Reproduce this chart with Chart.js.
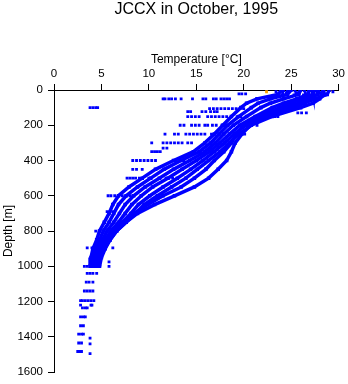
<!DOCTYPE html>
<html>
<head>
<meta charset="utf-8">
<script src="https://cdn.jsdelivr.net/npm/chart.js@4.4.1/dist/chart.umd.min.js"></script>
<style>
    html, body { margin: 0; padding: 0; background: #fff; }
    canvas { display: block; }
</style>
</head>
<body>
<canvas id="profileChart" width="348" height="384"></canvas>
<script>
var TITLE = "JCCX in October, 1995";
var TEMP_TICKS = [0, 5, 10, 15, 20, 25, 30];
var DEPTH_TICKS = [0, 200, 400, 600, 800, 1000, 1200, 1400, 1600];

// CTD casts, temperature [°C] at each depth [m]
var DEPTHS = [0, 25, 50, 75, 100, 150, 200, 250, 300, 350, 400, 450, 500, 550, 600, 650, 700, 750, 800, 850, 900, 950, 1000];
var cast1 = [24.0, 23.6, 21.4, 20.3, 19.7, 18.7, 17.8, 16.9, 15.9, 14.7, 12.6, 10.7, 9.3, 7.9, 6.8, 6.2, 5.8, 5.3, 4.8, 4.5, 4.1, 3.9, 3.8];
var cast2 = [25.0, 24.6, 22.8, 21.5, 20.8, 19.5, 18.3, 17.4, 16.5, 15.3, 13.4, 11.6, 10.2, 8.8, 7.6, 6.8, 6.3, 5.8, 5.2, 4.8, 4.4, 4.1, 4.0];
var cast3 = [26.0, 25.8, 24.2, 22.8, 21.8, 20.3, 18.9, 17.9, 17.0, 15.9, 14.3, 12.6, 11.1, 9.6, 8.4, 7.5, 6.9, 6.3, 5.6, 5.1, 4.7, 4.4, 4.2];
var cast4 = [26.9, 26.8, 25.6, 24.2, 23.0, 21.2, 19.6, 18.5, 17.5, 16.4, 15.0, 13.5, 12.0, 10.4, 9.2, 8.2, 7.5, 6.8, 6.0, 5.4, 5.0, 4.6, 4.4];
var cast5 = [27.7, 27.8, 26.9, 25.8, 24.6, 22.2, 20.2, 19.0, 18.0, 16.9, 15.7, 14.4, 13.0, 11.5, 10.1, 8.9, 8.1, 7.2, 6.3, 5.6, 5.2, 4.8, 4.6];
var cast6 = [28.4, 28.5, 28.0, 27.3, 26.0, 23.0, 20.8, 19.5, 18.5, 17.5, 16.3, 15.1, 13.9, 12.4, 10.9, 9.5, 8.6, 7.6, 6.6, 5.9, 5.4, 5.0, 4.8];
var cast7 = [27.2, 27.3, 26.2, 25.0, 23.8, 21.6, 20.0, 19.2, 18.7, 17.9, 16.9, 16.0, 14.8, 13.4, 11.5, 9.9, 8.4, 7.3, 6.3, 5.6, 5.1, 4.7, 4.5];
var cast8 = [29.0, 28.8, 27.5, 26.4, 25.2, 22.6, 20.7, 19.8, 19.1, 18.7, 18.2, 17.3, 16.3, 14.8, 12.7, 10.6, 8.8, 7.6, 6.6, 5.9, 5.3, 4.9, 4.7];

// bottle samples: one depth, several temperatures
var BOTTLE_DEPTHS = [5, 15, 28, 10, 22, 50, 100, 106, 123, 130, 151, 200, 250, 300, 330, 350, 400, 450, 500, 600, 690, 800, 895, 975, 1000, 1040, 1090, 1140, 1195, 1220, 1236, 1287, 1337, 1385, 1407, 1435, 1440, 1483, 1495];
var BOTTLE_TEMPS = [
    [24.2, 24.6, 25.4, 25.9, 26.4, 26.9, 27.5, 27.9, 28.3],
    [24.1, 24.5, 25.5, 25.7, 26.5, 26.8, 27.4, 28.0, 28.2],
    [24.0, 24.4, 25.3, 25.7, 26.3, 27.0, 27.5, 27.8, 28.1],
    [23.4, 29.4],
    [19.5, 19.8, 20.2],
    [11.5, 11.7, 12.1, 12.4, 12.8, 13.4, 14.6, 15.7, 16.0, 16.8, 17.1, 17.6, 17.9, 18.2, 18.5],
    [3.8, 4.1, 4.4, 4.6],
    [16.4, 16.8, 17.2, 17.6, 18.0, 18.4, 18.8, 19.2, 19.6, 20.0],
    [14.1, 14.4, 15.6, 16.0, 16.5, 16.9, 17.2],
    [25.7, 26.1, 26.6],
    [14.1, 14.5, 14.9, 15.3, 16.2, 16.6, 17.0, 17.4, 17.8, 18.2, 19.3, 19.7, 23.3, 23.6],
    [13.3, 13.7, 14.5, 14.9, 15.3, 15.9, 16.2, 16.7, 17.1, 17.7, 18.0, 21.4],
    [11.7, 12.7, 13.1, 13.9, 14.3, 14.7, 15.1, 15.5, 15.9, 16.6, 20.1],
    [10.3, 11.5, 11.9, 12.3, 12.7, 13.1, 13.5, 14.1, 14.5],
    [11.5, 11.9],
    [10.3, 10.6, 10.9, 11.2],
    [8.3, 8.7, 9.1, 9.5, 9.9, 10.3, 10.7, 12.9, 13.3, 13.7],
    [8.3, 8.7, 9.3],
    [7.7, 8.0, 8.3, 8.6, 9.0, 10.0, 11.2, 11.8, 12.1, 12.5],
    [5.7, 6.0, 6.4, 6.8, 7.2, 7.6, 8.0, 8.3],
    [5.6, 5.9, 6.2],
    [4.4],
    [3.5, 4.0, 6.2],
    [5.8],
    [3.2, 3.5, 5.8],
    [3.5, 3.8, 4.1, 4.5],
    [3.4, 3.7, 4.1],
    [3.2, 3.5, 3.8, 4.1],
    [2.8, 3.0, 3.3, 3.6, 3.9, 4.2],
    [2.8, 3.9, 4.0],
    [3.0, 3.3, 3.5],
    [2.8, 3.1, 3.3],
    [2.8, 3.1],
    [2.6, 2.9, 3.1],
    [3.8],
    [2.6, 2.9],
    [3.8],
    [2.5, 2.7, 2.9],
    [3.8]
];

// the two orange samples near the surface
var ORANGE_TEMPS = [22.4, 29.1];
var ORANGE_DEPTHS = [10, 2];

var BLUE = "#0000ff";
var FONT = "'Liberation Sans', Arial, Helvetica, sans-serif";

function castDataset(temps) {
    return {
        data: temps.map(function (t, i) {
            return { x: t, y: DEPTHS[i] };
        }),
        showLine: true,
        borderColor: BLUE,
        borderWidth: 3.5,
        backgroundColor: BLUE,
        pointStyle: "rect",
        pointRadius: 2.5,
        pointBorderWidth: 0,
    };
}

var bottlePoints = [];
BOTTLE_DEPTHS.forEach(function (d, i) {
    BOTTLE_TEMPS[i].forEach(function (t) {
        bottlePoints.push({ x: t, y: d });
    });
});

var datasets = [cast1, cast2, cast3, cast4, cast5, cast6, cast7, cast8].map(castDataset);
datasets.push({
    data: bottlePoints,
    backgroundColor: BLUE,
    borderWidth: 0,
    pointStyle: "rect",
    pointRadius: 2,
});
datasets.push({
    data: ORANGE_TEMPS.map(function (t, i) {
        return { x: t, y: ORANGE_DEPTHS[i] };
    }),
    backgroundColor: "#ffa500",
    borderWidth: 0,
    pointStyle: "rect",
    pointRadius: 2,
});

var titlePlugin = {
    id: "plotTitle",
    afterDraw: function (chart) {
        var ctx = chart.ctx;
        var area = chart.chartArea;
        ctx.save();
        ctx.font = "16px " + FONT;
        ctx.fillStyle = "#000";
        ctx.textAlign = "center";
        ctx.textBaseline = "alphabetic";
        ctx.fillText(TITLE, (area.left + area.right) / 2, 14);
        ctx.restore();
    },
};

var ctx = document.getElementById("profileChart").getContext("2d");
new Chart(ctx, {
    type: "scatter",
    data: { datasets: datasets },
    plugins: [titlePlugin],
    options: {
        responsive: false,
        animation: false,
        layout: { padding: { top: 0, right: 9, bottom: 8, left: 0 } },
        plugins: {
            legend: { display: false },
            tooltip: { enabled: false },
            title: { display: false },
        },
        scales: {
            x: {
                type: "linear",
                position: "top",
                min: 0,
                max: 30,
                afterBuildTicks: function (scale) {
                    scale.ticks = TEMP_TICKS.map(function (v) { return { value: v }; });
                },
                afterFit: function (scale) { scale.height = 90; },
                ticks: {
                    color: "#000",
                    font: { family: FONT, size: 11.5 },
                    padding: 3,
                    maxRotation: 0,
                    callback: function (v) { return String(v); },
                },
                grid: { drawOnChartArea: false, color: "#000", tickLength: 6 },
                border: { color: "#000", width: 1 },
                title: {
                    display: true,
                    text: "Temperature [°C]",
                    color: "#000",
                    font: { family: FONT, size: 12 },
                    padding: { top: 52, bottom: 0 },
                },
            },
            y: {
                type: "linear",
                reverse: true,
                min: 0,
                max: 1600,
                afterBuildTicks: function (scale) {
                    scale.ticks = DEPTH_TICKS.map(function (v) { return { value: v }; });
                },
                afterFit: function (scale) { scale.width = 54; },
                ticks: {
                    color: "#000",
                    font: { family: FONT, size: 11.5 },
                    padding: 5,
                    callback: function (v) { return String(v); },
                },
                grid: { drawOnChartArea: false, color: "#000", tickLength: 6 },
                border: { color: "#000", width: 1 },
                title: {
                    display: true,
                    text: "Depth [m]",
                    color: "#000",
                    font: { family: FONT, size: 12 },
                    padding: { top: 1, bottom: 0 },
                },
            },
        },
    },
});
</script>
</body>
</html>
